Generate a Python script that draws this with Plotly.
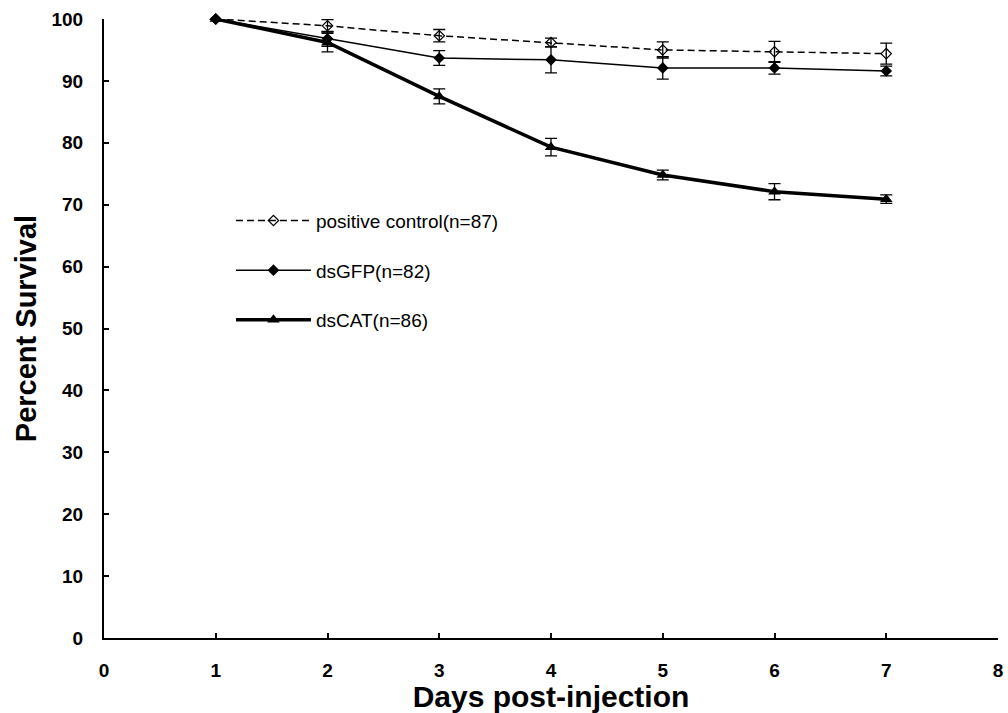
import plotly.graph_objects as go

days = [1, 2, 3, 4, 5, 6, 7]
pos_ctrl = [100, 98.9, 97.3, 96.2, 95.0, 94.7, 94.4]
pos_ctrl_err = [0, 1.0, 1.0, 0.7, 1.3, 1.7, 1.7]
dsgfp = [100, 96.8, 93.7, 93.4, 92.1, 92.1, 91.6]
dsgfp_err = [0, 1.2, 1.2, 2.1, 1.8, 1.0, 0.8]
dscat = [100, 96.2, 87.5, 79.3, 74.8, 72.1, 70.9]
dscat_err = [0, 1.5, 1.2, 1.4, 0.8, 1.3, 0.7]

names = ["positive control(n=87)", "dsGFP(n=82)", "dsCAT(n=86)"]
x_ticks = [0, 1, 2, 3, 4, 5, 6, 7, 8]
y_ticks = [0, 10, 20, 30, 40, 50, 60, 70, 80, 90, 100]

fig = go.Figure()

fig.add_trace(go.Scatter(
    x=days, y=pos_ctrl, name=names[0], legendgroup="a", mode="lines+markers",
    line=dict(color="black", width=1.5, dash="7px,4px"),
    marker=dict(symbol="diamond-open", size=8, color="black", line=dict(width=1.2)),
    error_y=dict(type="data", array=pos_ctrl_err, color="black", thickness=1.3, width=6),
    cliponaxis=False,
))
fig.add_trace(go.Scatter(
    x=days, y=dsgfp, name=names[1], legendgroup="b", mode="lines+markers",
    line=dict(color="black", width=1.5),
    marker=dict(symbol="diamond", size=9, color="black"),
    error_y=dict(type="data", array=dsgfp_err, color="black", thickness=1.3, width=6),
    cliponaxis=False,
))
fig.add_trace(go.Scatter(
    x=days, y=dscat, name=names[2], legendgroup="c", mode="lines+markers",
    line=dict(color="black", width=3.5),
    marker=dict(symbol="triangle-up", size=11, color="black"),
    error_y=dict(type="data", array=dscat_err, color="black", thickness=1.3, width=6),
    cliponaxis=False,
))

font_fam = "Liberation Sans, Arial, sans-serif"

fig.update_layout(
    width=1008, height=713,
    margin=dict(l=104, r=5, t=19, b=75),
    paper_bgcolor="white", plot_bgcolor="white",
    font=dict(family=font_fam, color="black"),
    showlegend=True,
    legend=dict(
        x=0.142, y=0.705, xanchor="left", yanchor="top",
        bgcolor="rgba(0,0,0,0)", font=dict(size=19, family=font_fam, color="black"),
        tracegroupgap=22, itemwidth=75,
    ),
    xaxis=dict(
        range=[0, 8], tickvals=x_ticks, ticktext=[str(v) for v in x_ticks],
        showline=True, linecolor="black", linewidth=2,
        ticks="inside", ticklen=5, tickwidth=1.5, tickcolor="black",
        showgrid=False, zeroline=False,
        tickfont=dict(size=19, family=font_fam, color="black", weight="bold"),
        ticklabelstandoff=14, ticklabeloverflow="allow",
        title=dict(text="<b>Days post-injection</b>", font=dict(size=30, family=font_fam), standoff=0),
    ),
    yaxis=dict(
        range=[0, 100], tickvals=y_ticks, ticktext=[str(v) for v in y_ticks],
        showline=True, linecolor="black", linewidth=2,
        ticks="inside", ticklen=5, tickwidth=1.5, tickcolor="black",
        showgrid=False, zeroline=False,
        tickfont=dict(size=19, family=font_fam, color="black", weight="bold"),
        ticklabelstandoff=15,
        title=dict(text="<b>Percent Survival</b>", font=dict(size=29, family=font_fam), standoff=6),
    ),
)

fig.write_html("out.html")
